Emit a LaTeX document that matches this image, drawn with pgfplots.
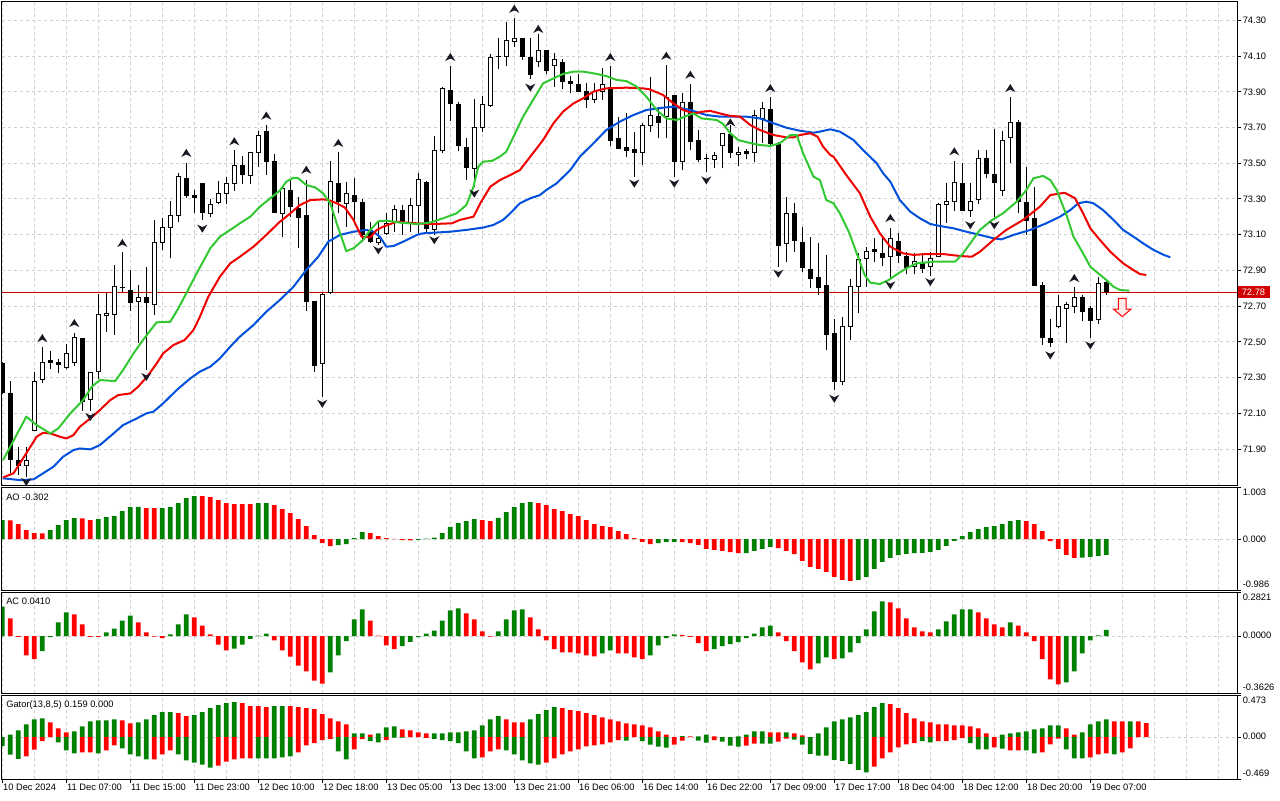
\documentclass[border=0pt]{standalone}
\usepackage{pgfplots}
\usepackage{pgfplotstable}
\pgfplotsset{compat=1.18}
\usepackage{fontspec}
\setmainfont{Liberation Sans}
\definecolor{mtgreen}{RGB}{0,128,0}
\definecolor{mtred}{RGB}{255,0,0}
\definecolor{lipsc}{RGB}{50,200,50}
\definecolor{teethc}{RGB}{240,0,0}
\definecolor{jawc}{RGB}{0,80,220}
\definecolor{gridc}{RGB}{208,208,208}
\definecolor{pricebox}{RGB}{210,0,0}
\definecolor{priceline}{RGB}{205,0,0}
\definecolor{fracc}{RGB}{25,25,35}
\newcommand\lbl{\fontsize{7}{8}\selectfont}

\pgfdeclareplotmark{fup}{%
  \pgfpathmoveto{\pgfqpoint{0pt}{3.3pt}}%
  \pgfpathlineto{\pgfqpoint{3.8pt}{-2.8pt}}%
  \pgfpathlineto{\pgfqpoint{0pt}{-0.9pt}}%
  \pgfpathlineto{\pgfqpoint{-3.8pt}{-2.8pt}}%
  \pgfpathclose\pgfusepathqfill}
\pgfdeclareplotmark{fdown}{%
  \pgfpathmoveto{\pgfqpoint{0pt}{-3.3pt}}%
  \pgfpathlineto{\pgfqpoint{3.8pt}{2.8pt}}%
  \pgfpathlineto{\pgfqpoint{0pt}{0.9pt}}%
  \pgfpathlineto{\pgfqpoint{-3.8pt}{2.8pt}}%
  \pgfpathclose\pgfusepathqfill}
\pgfdeclareplotmark{sellarrow}{%
  \pgfpathmoveto{\pgfqpoint{-2.9pt}{6.5pt}}%
  \pgfpathlineto{\pgfqpoint{2.9pt}{6.5pt}}%
  \pgfpathlineto{\pgfqpoint{2.9pt}{-1.7pt}}%
  \pgfpathlineto{\pgfqpoint{6.5pt}{-1.7pt}}%
  \pgfpathlineto{\pgfqpoint{0pt}{-7.3pt}}%
  \pgfpathlineto{\pgfqpoint{-6.5pt}{-1.7pt}}%
  \pgfpathlineto{\pgfqpoint{-2.9pt}{-1.7pt}}%
  \pgfpathclose\pgfusepathqfillstroke}

\pgfplotsset{
  mtaxis/.style={scale only axis, width=926.25pt, anchor=south west,
    xmin=-0.0375, xmax=154.34,
    axis line style={black, line width=0.75pt},
    xtick={0,4,...,152}, xticklabels={}, xmajorgrids, ymajorgrids,
    major grid style={gridc, dash pattern=on 2.25pt off 2.25pt, line width=0.75pt},
    minor grid style={gridc, dash pattern=on 2.25pt off 2.25pt, line width=0.75pt},
    xtick style={draw=none}, yticklabels={}, ytick pos=right,
    tick align=outside, major tick length=3pt,
    ytick style={black, line width=0.75pt}},
  nomk/.style={only marks, mark=none, mark size=0pt, mark options={draw=none, fill=none}},
  wick/.style={black, nomk, error bars/.cd, y dir=plus, y explicit,
    error mark=none, error bar style={line width=0.75pt, draw=black}},
  body/.style={nomk, error bars/.cd, y dir=plus, y explicit,
    error mark=none, error bar style={line width=#1}},
  hbar/.style={ybar, bar width=3.5pt, bar shift=0pt, draw=none, fill=#1}
}

% candles: i O H L C
\pgfplotstableread{
i O H L C
3 71.809 71.910 71.746 71.839
4 72.007 72.334 72.000 72.281
5 72.291 72.473 72.268 72.384
8 72.356 72.487 72.347 72.436
9 72.384 72.552 72.365 72.524
11 72.179 72.330 72.115 72.328
12 72.337 72.768 72.291 72.651
13 72.649 72.776 72.557 72.660
14 72.651 72.931 72.539 72.813
17 72.729 72.819 72.496 72.750
19 72.710 73.183 72.651 73.058
20 73.058 73.192 73.015 73.140
21 73.140 73.289 72.968 73.207
22 73.207 73.447 73.173 73.425
26 73.220 73.298 73.197 73.270
27 73.281 73.401 73.272 73.332
28 73.332 73.425 73.272 73.388
29 73.388 73.574 73.347 73.490
31 73.429 73.560 73.384 73.559
32 73.559 73.682 73.477 73.653
35 73.220 73.360 73.090 73.360
40 72.380 72.772 72.194 72.768
41 72.778 73.513 72.770 73.397
43 73.276 73.397 73.145 73.332
47 73.055 73.173 73.043 73.080
48 73.108 73.220 73.099 73.164
49 73.167 73.266 73.117 73.239
51 73.164 73.304 73.117 73.261
52 73.261 73.444 73.108 73.410
54 73.130 73.653 73.100 73.571
55 73.569 73.925 73.559 73.919
59 73.472 73.858 73.365 73.701
60 73.701 73.878 73.677 73.830
61 73.821 74.112 73.817 74.093
63 74.097 74.289 74.046 74.186
64 74.182 74.311 74.149 74.199
67 74.069 74.224 74.040 74.130
69 74.046 74.115 73.929 74.082
74 73.854 73.947 73.835 73.901
75 73.901 74.031 73.854 73.942
80 73.559 73.727 73.490 73.714
81 73.714 73.981 73.677 73.770
83 73.761 74.050 73.640 73.869
85 73.509 73.891 73.462 73.841
89 73.522 73.565 73.472 73.541
90 73.600 73.671 73.472 73.668
92 73.550 73.589 73.487 73.561
94 73.559 73.798 73.509 73.765
95 73.752 73.841 73.615 73.807
98 73.052 73.313 72.949 73.220
105 72.278 72.641 72.259 72.589
106 72.589 72.850 72.511 72.813
107 72.813 72.996 72.660 72.959
108 72.968 73.030 72.810 73.005
111 72.981 73.140 72.847 73.080
114 72.921 73.000 72.878 72.949
116 72.921 73.005 72.869 72.968
117 72.981 73.276 72.977 73.272
118 73.272 73.388 73.168 73.285
119 73.285 73.515 73.235 73.391
121 73.238 73.388 73.197 73.285
122 73.298 73.574 73.272 73.528
125 73.347 73.680 73.317 73.630
126 73.643 73.869 73.500 73.729
132 72.585 72.763 72.576 72.701
133 72.688 72.725 72.496 72.712
134 72.701 72.806 72.660 72.750
137 72.627 72.865 72.600 72.828
}\bull
\pgfplotstableread{
i O H L C
0 72.380 72.390 72.210 72.216
1 72.216 72.281 71.768 71.839
2 71.839 71.910 71.755 71.806
6 72.399 72.449 72.347 72.380
7 72.390 72.403 72.328 72.371
10 72.520 72.524 72.115 72.166
15 72.800 73.002 72.781 72.800
16 72.791 72.903 72.675 72.716
18 72.750 72.921 72.343 72.716
23 73.419 73.503 73.307 73.317
24 73.321 73.350 73.220 73.307
25 73.388 73.391 73.183 73.220
30 73.490 73.541 73.384 73.434
33 73.680 73.714 73.434 73.509
34 73.513 73.550 73.220 73.220
36 73.350 73.406 73.201 73.257
37 73.251 73.313 73.024 73.196
38 73.210 73.406 72.675 72.725
39 72.729 72.730 72.334 72.365
42 73.391 73.565 73.220 73.285
44 73.322 73.420 73.160 73.285
45 73.282 73.300 73.061 73.100
46 73.126 73.173 73.055 73.061
50 73.239 73.266 73.099 73.167
53 73.397 73.400 73.110 73.130
56 73.910 74.044 73.738 73.830
57 73.830 73.841 73.571 73.599
58 73.589 73.640 73.406 73.472
62 74.097 74.199 74.028 74.097
65 74.199 74.200 74.078 74.097
66 74.093 74.199 73.972 73.994
68 74.134 74.134 73.999 74.018
70 74.069 74.082 73.914 73.953
71 73.960 73.988 73.891 73.944
72 73.942 74.000 73.900 73.901
73 73.904 73.947 73.807 73.854
76 73.929 74.044 73.599 73.627
77 73.640 73.761 73.578 73.578
78 73.589 73.779 73.537 73.571
79 73.578 73.677 73.425 73.559
82 73.765 73.817 73.640 73.727
84 73.882 73.882 73.425 73.509
86 73.841 73.944 73.574 73.617
87 73.630 73.686 73.509 73.518
88 73.522 73.552 73.453 73.522
91 73.662 73.714 73.528 73.559
93 73.571 73.580 73.522 73.552
96 73.804 73.869 73.599 73.608
97 73.612 73.621 72.921 73.039
99 73.220 73.276 73.005 73.067
100 73.058 73.145 72.893 72.912
101 72.908 73.089 72.800 72.850
102 72.862 73.052 72.763 72.800
103 72.819 72.987 72.455 72.539
104 72.552 72.627 72.231 72.278
109 73.018 73.080 72.949 73.001
110 73.000 73.098 72.925 72.968
112 73.067 73.108 72.940 72.981
113 72.981 73.005 72.878 72.912
115 72.949 72.996 72.884 72.906
120 73.388 73.503 73.235 73.235
123 73.528 73.574 73.416 73.438
124 73.440 73.690 73.197 73.388
127 73.729 73.742 73.220 73.281
128 73.281 73.481 73.099 73.179
129 73.192 73.369 72.813 72.815
130 72.819 72.837 72.483 72.520
131 72.520 72.627 72.474 72.496
135 72.753 72.763 72.619 72.669
136 72.688 72.701 72.520 72.619
138 72.837 72.845 72.765 72.780
}\bear

\begin{document}
\begin{tikzpicture}[x=0.75pt,y=0.75pt]
\path[use as bounding box] (0,0) rectangle (1280,800);
\fill[white] (0,0) rectangle (1280,800);

% ---------------- main price panel ----------------
\begin{axis}[mtaxis, at={(1.5pt,235.875pt)}, height=362.625pt,
  ymin=71.6968, ymax=74.4024,
  ytick={71.9,72.1,72.3,72.5,72.7,72.9,73.1,73.3,73.5,73.7,73.9,74.1,74.3}]
\addplot[color=priceline, mark=none, line width=0.8pt] coordinates {(-1,72.777) (160,72.777)};
% wicks
\addplot[wick] table[x=i, y=L, y error plus expr={\thisrow{H}-\thisrow{L}}] {\bull};
\addplot[wick] table[x=i, y=L, y error plus expr={\thisrow{H}-\thisrow{L}}] {\bear};
% bodies
\addplot[black, body={3.75pt, draw=black}] table[x=i, y=C, y error plus expr={max(\thisrow{O}-\thisrow{C},0.0056)}] {\bear};
\addplot[black, body={3.75pt, draw=black}] table[x=i, y expr={\thisrow{O}-0.0028}, y error plus expr={\thisrow{C}-\thisrow{O}+0.0056}] {\bull};
\addplot[white, body={2.25pt, draw=white}] table[x=i, y expr={\thisrow{O}+0.0028}, y error plus expr={max(\thisrow{C}-\thisrow{O}-0.0056,0)}] {\bull};
% alligator: jaw (blue)
\addplot[jawc, mark=none, line width=1.5pt, line join=round] coordinates {
(0.1,71.737)(2.2,71.727)(3.9,71.731)(5.1,71.765)(6.4,71.802)(7.6,71.858)(8.9,71.895)(9.7,71.904)(11.0,71.899)(12.2,71.923)(13.9,71.988)(15.1,72.035)(16.8,72.072)(18.0,72.100)(18.9,72.110)(20.1,72.156)(21.8,72.231)(23.5,72.296)(24.7,72.334)(26.0,72.362)(27.2,72.408)(28.5,72.474)(29.7,72.530)(31.4,72.595)(33.0,72.669)(34.7,72.735)(36.4,72.809)(38.0,72.903)(39.5,72.977)(40.75,73.061)(42.2,73.099)(43.9,73.117)(45.5,73.127)(46.4,73.117)(47.2,73.089)(48.0,73.033)(48.9,73.037)(50.1,73.061)(51.8,73.099)(52.6,73.108)(56.0,73.117)(58.0,73.127)(60.1,73.140)(61.4,73.155)(62.6,73.183)(63.5,73.220)(64.7,73.276)(66.0,73.304)(67.2,73.322)(68.0,73.350)(69.3,73.388)(71.0,73.462)(72.2,73.537)(73.9,73.612)(75.5,73.686)(77.2,73.733)(78.9,73.770)(80.5,73.798)(82.6,73.811)(83.9,73.817)(86.0,73.798)(88.0,73.770)(89.7,73.761)(93.0,73.761)(94.7,73.751)(96.4,73.724)(98.0,73.699)(99.7,73.682)(101.4,73.671)(102.2,73.677)(103.5,73.690)(104.7,73.677)(106.4,73.630)(107.6,73.574)(109.3,73.500)(110.1,73.444)(111.0,73.397)(112.2,73.294)(113.5,73.229)(114.7,73.192)(116.0,73.160)(117.2,73.149)(118.9,73.136)(120.5,73.117)(122.2,73.099)(123.9,73.080)(124.9,73.074)(126.4,73.099)(128.5,73.127)(130.5,73.164)(132.2,73.201)(133.5,73.238)(134.5,73.276)(135.5,73.285)(136.4,73.276)(137.6,73.238)(138.9,73.183)(140.1,73.127)(141.4,73.089)(142.6,73.052)(143.9,73.015)(145.2,72.987)(146.0,72.974)};
% teeth (red)
\addplot[teethc, mark=none, line width=1.5pt, line join=round] coordinates {
(0.1,71.742)(1.4,71.765)(3.0,71.877)(4.3,71.970)(5.1,71.992)(6.0,71.988)(7.2,71.970)(8.0,71.960)(8.9,71.979)(9.7,72.026)(11.0,72.072)(12.2,72.119)(13.5,72.175)(14.5,72.203)(16.0,72.212)(17.0,72.250)(18.25,72.315)(19.3,72.380)(20.1,72.436)(21.4,72.483)(22.8,72.511)(23.9,72.567)(24.7,72.641)(25.75,72.753)(27.2,72.865)(28.5,72.940)(29.7,72.977)(31.4,73.033)(33.0,73.099)(34.7,73.173)(35.75,73.210)(37.2,73.266)(38.5,73.294)(40.1,73.298)(40.75,73.294)(41.8,73.276)(42.8,73.253)(43.9,73.183)(44.9,73.089)(46.0,73.085)(46.8,73.127)(47.6,73.145)(49.3,73.173)(50.5,73.168)(51.8,73.164)(53.9,73.160)(56.2,73.164)(57.2,73.183)(58.9,73.201)(59.75,73.276)(61.0,73.369)(62.2,73.406)(63.5,73.434)(64.7,73.462)(66.0,73.537)(67.6,73.630)(68.9,73.724)(70.1,73.789)(71.4,73.835)(72.6,73.863)(73.9,73.901)(75.5,73.919)(78.0,73.923)(80.1,73.919)(80.9,73.914)(82.6,73.882)(83.9,73.835)(85.1,73.798)(86.4,73.779)(87.6,73.789)(88.5,73.793)(89.7,73.779)(91.0,73.765)(92.2,73.761)(93.5,73.714)(94.7,73.686)(96.4,73.658)(98.0,73.645)(98.9,73.645)(99.7,73.658)(101.0,73.668)(101.9,73.649)(102.6,73.593)(103.5,73.546)(103.9,73.537)(105.5,73.434)(107.2,73.332)(108.5,73.201)(109.7,73.108)(111.0,73.033)(112.6,72.996)(113.9,72.987)(115.5,72.992)(117.6,72.992)(119.7,72.981)(121.2,72.977)(122.2,73.005)(123.9,73.071)(125.5,73.127)(127.6,73.183)(129.7,73.257)(131.0,73.322)(132.8,73.335)(134.1,73.304)(135.1,73.220)(136.0,73.136)(137.2,73.071)(138.5,73.005)(140.1,72.940)(141.4,72.902)(142.2,72.880)(143.0,72.875)};
% lips (green)
\addplot[lipsc, mark=none, line width=1.5pt, line join=round] coordinates {
(0.1,71.839)(3.0,72.082)(4.3,72.035)(6.0,71.988)(7.0,72.016)(8.5,72.100)(10.1,72.175)(11.2,72.250)(12.2,72.287)(14.1,72.281)(15.1,72.343)(16.4,72.436)(17.6,72.511)(18.7,72.576)(19.3,72.610)(21.0,72.613)(22.0,72.688)(23.0,72.772)(24.3,72.884)(26.0,73.024)(27.2,73.089)(28.5,73.127)(29.7,73.164)(31.0,73.201)(32.2,73.257)(33.5,73.304)(34.7,73.347)(35.5,73.397)(36.4,73.419)(37.0,73.416)(38.0,73.378)(39.1,73.365)(40.1,73.332)(41.0,73.276)(41.8,73.164)(43.0,73.008)(43.9,73.024)(45.1,73.071)(46.0,73.127)(47.0,73.175)(48.0,73.179)(49.7,73.168)(51.8,73.160)(53.5,73.168)(55.1,73.192)(56.8,73.220)(58.0,73.266)(58.9,73.369)(59.5,73.481)(60.1,73.509)(61.2,73.513)(62.2,73.537)(63.0,73.565)(63.9,73.649)(65.1,73.761)(66.6,73.873)(67.6,73.947)(68.9,73.975)(70.1,74.000)(71.4,74.013)(72.6,74.013)(74.3,74.000)(75.5,73.988)(76.8,73.966)(78.0,73.960)(79.3,73.929)(80.5,73.873)(81.8,73.798)(83.0,73.751)(84.3,73.742)(85.8,73.770)(86.4,73.779)(87.4,73.751)(89.3,73.742)(90.1,73.720)(91.0,73.668)(92.0,73.630)(93.3,73.615)(94.7,73.602)(96.0,73.597)(97.2,73.612)(98.5,73.658)(99.3,73.658)(100.1,73.556)(101.4,73.425)(102.2,73.406)(103.0,73.294)(103.9,73.276)(104.7,73.220)(105.9,73.108)(106.8,72.996)(107.8,72.875)(108.5,72.832)(109.7,72.824)(110.8,72.847)(112.0,72.884)(113.0,72.912)(114.3,72.940)(116.4,72.949)(119.1,72.949)(120.1,72.996)(121.0,73.052)(122.2,73.127)(123.7,73.182)(125.1,73.220)(126.8,73.285)(128.0,73.350)(128.9,73.416)(130.1,73.429)(131.0,73.406)(131.8,73.350)(133.1,73.201)(133.9,73.089)(135.1,72.996)(136.0,72.921)(137.0,72.884)(138.0,72.847)(138.9,72.809)(139.7,72.791)(140.9,72.787)};
% fractals
\addplot[fracc, only marks, mark=fup] coordinates {
(5,72.520)(9,72.604)(15,73.052)(23,73.556)(29,73.621)(33,73.765)(38,73.462)(42,73.612)(56,74.093)(64,74.363)(67,74.250)(76,74.093)(83,74.100)(86,73.994)(91,73.727)(96,73.919)(111,73.192)(119,73.565)(126,73.919)(134,72.856)};
\addplot[fracc, only marks, mark=fdown] coordinates {
(3,71.718)(11,72.082)(18,72.306)(25,73.136)(40,72.156)(47,73.015)(54,73.071)(59,73.332)(66,73.925)(79,73.388)(84,73.388)(88,73.406)(97,72.884)(104,72.184)(111,72.819)(116,72.837)(121,73.155)(124,73.155)(131,72.427)(136,72.483)};
\addplot[only marks, mark=sellarrow, mark options={draw=red, fill=red!8, line width=0.75pt}] coordinates {(140,72.696)};
\end{axis}

% ---------------- AO panel ----------------
\begin{axis}[mtaxis, at={(1.5pt,157.5pt)}, height=76.875pt,
  ymin=-0.986, ymax=1.003, ytick={-0.986,0,1.003}]
\addplot[hbar=mtgreen] coordinates {(0,.37)(6,.175)(7,.272)(8,.37)(9,.409)(12,.389)(13,.428)(14,.447)(15,.545)(16,.623)(17,.625)(20,.605)(21,.623)(22,.70)(23,.798)(24,.837)(32,.70)(33,.701)(42,-.117)(43,-.097)(44,.019)(45,.136)(52,-.015)(53,.01)(54,.03)(55,.117)(56,.24)(57,.311)(58,.35)(59,.389)(62,.415)(63,.525)(64,.623)(65,.70)(66,.72)(82,-.078)(83,-.052)(84,-.05)(93,-.27)(94,-.227)(95,-.188)(96,-.149)(107,-.79)(108,-.733)(109,-.577)(110,-.441)(111,-.363)(112,-.311)(113,-.285)(114,-.272)(115,-.266)(116,-.246)(117,-.208)(118,-.13)(119,-.032)(120,.058)(121,.136)(122,.195)(123,.233)(124,.253)(125,.292)(126,.35)(127,.37)(135,-.36)(136,-.344)(137,-.324)(138,-.302)};
\addplot[hbar=mtred] coordinates {(1,.365)(2,.29)(3,.175)(4,.117)(5,.115)(10,.405)(11,.37)(18,.603)(19,.601)(25,.836)(26,.817)(27,.759)(28,.70)(29,.681)(30,.68)(31,.679)(34,.661)(35,.584)(36,.506)(37,.389)(38,.253)(39,.078)(40,-.078)(41,-.136)(46,.117)(47,.058)(48,.019)(49,.004)(50,-.02)(51,-.022)(60,.37)(61,.35)(67,.70)(68,.661)(69,.584)(70,.545)(71,.486)(72,.447)(73,.37)(74,.292)(75,.253)(76,.233)(77,.156)(78,.097)(79,.02)(80,-.052)(81,-.097)(85,-.058)(86,-.078)(87,-.11)(88,-.188)(89,-.208)(90,-.227)(91,-.253)(92,-.272)(97,-.175)(98,-.227)(99,-.292)(100,-.42)(101,-.538)(102,-.577)(103,-.636)(104,-.733)(105,-.791)(106,-.811)(128,.35)(129,.292)(130,.156)(131,-.039)(132,-.188)(133,-.305)(134,-.363)};
\end{axis}

% ---------------- AC panel ----------------
\begin{axis}[mtaxis, at={(1.5pt,80.25pt)}, height=75.75pt,
  ymin=-0.3626, ymax=0.2821, ytick={-0.3626,0,0.2821}]
\addplot[hbar=mtgreen] coordinates {(0,.188)(5,-.096)(6,-.006)(7,.088)(8,.152)(13,.024)(14,.049)(15,.10)(16,.132)(21,.011)(22,.075)(23,.139)(29,-.079)(30,-.053)(31,-.017)(32,.004)(33,.017)(41,-.231)(42,-.122)(43,-.032)(44,.107)(45,.171)(50,-.064)(51,-.036)(52,-.006)(53,.017)(54,.036)(55,.10)(56,.165)(57,.177)(62,.03)(63,.107)(64,.165)(65,.171)(75,-.109)(76,-.09)(81,-.122)(82,-.058)(83,-.013)(84,.011)(89,-.083)(90,-.064)(91,-.051)(92,-.038)(93,-.013)(94,.017)(95,.056)(96,.068)(102,-.173)(103,-.135)(105,-.141)(106,-.103)(107,-.045)(108,.043)(109,.158)(110,.222)(117,.043)(118,.094)(119,.139)(120,.171)(121,.172)(126,.088)(133,-.295)(134,-.224)(135,-.109)(136,-.026)(137,.006)(138,.041)};
\addplot[hbar=mtred] coordinates {(1,.113)(2,-.004)(3,-.122)(4,-.147)(9,.139)(10,.075)(11,-.004)(12,-.005)(17,.088)(18,.024)(19,-.002)(20,-.013)(24,.12)(25,.068)(26,.011)(27,-.053)(28,-.09)(34,-.026)(35,-.09)(36,-.13)(37,-.188)(38,-.224)(39,-.284)(40,-.303)(46,.10)(47,.004)(48,-.058)(49,-.083)(58,.145)(59,.107)(60,.03)(61,-.002)(66,.12)(67,.043)(68,-.026)(69,-.083)(70,-.103)(71,-.104)(72,-.109)(73,-.122)(74,-.128)(77,-.109)(78,-.11)(79,-.135)(80,-.147)(85,.009)(86,-.004)(87,-.045)(88,-.096)(97,.024)(98,-.032)(99,-.096)(100,-.167)(101,-.212)(104,-.147)(111,.216)(112,.177)(113,.113)(114,.056)(115,.03)(116,.024)(122,.152)(123,.113)(124,.075)(125,.056)(127,.068)(128,.024)(129,-.032)(130,-.147)(131,-.276)(132,-.308)};
\end{axis}

% ---------------- Gator panel ----------------
\begin{axis}[mtaxis, at={(1.5pt,15.75pt)}, height=63pt,
  ymin=-0.469, ymax=0.473, ytick={-0.469,0,0.473},
  xtick={0,8,...,136}, minor xtick={4,12,...,148,144,152}, xminorgrids,
  xtick pos=bottom, xtick style={draw=black, line width=0.75pt}, minor tick length=0pt]
\addplot[hbar=mtgreen] coordinates {(1,.03)(2,.076)(3,.144)(4,.20)(5,.212)(9,.064)(10,.121)(11,.178)(12,.189)(13,.189)(14,.20)(17,.167)(18,.20)(19,.246)(20,.28)(21,.28)(24,.246)(25,.28)(26,.326)(27,.36)(28,.383)(29,.394)(34,.348)(35,.348)(44,.042)(45,.042)(47,.042)(48,.11)(49,.121)(54,.042)(55,.042)(56,.053)(57,.053)(58,.064)(59,.076)(60,.133)(61,.20)(62,.235)(66,.20)(67,.258)(68,.303)(69,.337)(85,.011)(87,.008)(88,.03)(92,.008)(93,.03)(94,.064)(95,.064)(98,.053)(102,.042)(103,.11)(104,.178)(105,.20)(106,.223)(107,.246)(108,.28)(109,.337)(110,.383)(125,.03)(126,.042)(127,.053)(128,.064)(129,.087)(130,.098)(131,.133)(132,.133)(135,.053)(136,.144)(137,.178)(138,.20)(141,.178)};
\addplot[hbar=mtred] coordinates {(6,.167)(7,.098)(8,.053)(15,.189)(16,.155)(22,.269)(23,.235)(30,.383)(31,.348)(32,.348)(33,.337)(36,.348)(37,.337)(38,.326)(39,.314)(40,.258)(41,.212)(42,.178)(43,.144)(46,.03)(50,.087)(51,.076)(52,.053)(53,.042)(63,.20)(64,.167)(65,.167)(70,.326)(71,.303)(72,.292)(73,.269)(74,.246)(75,.223)(76,.20)(77,.178)(78,.155)(79,.144)(80,.133)(81,.11)(82,.064)(83,.03)(86,.008)(89,.008)(96,.053)(97,.053)(99,.042)(100,.019)(111,.371)(112,.326)(113,.269)(114,.212)(115,.178)(116,.167)(117,.144)(118,.144)(119,.133)(120,.133)(121,.121)(122,.098)(123,.042)(133,.098)(134,.03)(139,.178)(140,.178)(142,.176)(143,.159)};
\addplot[hbar=mtgreen] coordinates {(0,-.10)(1,-.197)(2,-.242)(7,-.057)(8,-.148)(9,-.182)(12,-.182)(15,-.125)(16,-.193)(17,-.216)(18,-.25)(22,-.193)(23,-.261)(24,-.284)(25,-.307)(26,-.341)(32,-.239)(33,-.239)(34,-.239)(35,-.227)(36,-.216)(42,-.159)(43,-.25)(46,-.045)(47,-.057)(49,-.005)(50,-.005)(54,-.019)(55,-.034)(56,-.045)(57,-.068)(58,-.159)(59,-.239)(63,-.148)(64,-.193)(65,-.261)(66,-.295)(67,-.307)(78,-.038)(80,-.045)(81,-.083)(82,-.106)(83,-.117)(87,-.038)(88,-.06)(90,-.049)(91,-.095)(92,-.106)(95,-.072)(96,-.072)(99,-.027)(100,-.083)(101,-.186)(102,-.208)(103,-.208)(104,-.254)(105,-.265)(106,-.299)(107,-.367)(108,-.394)(115,-.045)(116,-.057)(121,-.068)(122,-.136)(123,-.136)(125,-.129)(128,-.148)(129,-.182)(133,-.136)(134,-.239)(135,-.239)(139,-.193)};
\addplot[hbar=mtred] coordinates {(3,-.216)(4,-.14)(5,-.045)(10,-.17)(11,-.17)(13,-.148)(14,-.091)(19,-.25)(20,-.193)(21,-.148)(27,-.318)(28,-.273)(29,-.25)(30,-.239)(31,-.239)(37,-.17)(38,-.091)(39,-.068)(40,-.034)(41,-.023)(44,-.136)(45,-.023)(48,-.034)(53,-.008)(60,-.227)(61,-.159)(62,-.136)(68,-.284)(69,-.239)(70,-.193)(71,-.159)(72,-.136)(73,-.102)(74,-.091)(75,-.08)(76,-.057)(77,-.034)(84,-.083)(85,-.038)(89,-.034)(93,-.095)(94,-.072)(97,-.049)(98,-.015)(109,-.33)(110,-.239)(111,-.17)(112,-.114)(113,-.08)(114,-.068)(117,-.045)(118,-.045)(119,-.034)(120,-.011)(124,-.114)(126,-.148)(127,-.148)(130,-.17)(131,-.08)(132,-.015)(136,-.227)(137,-.193)(138,-.182)(140,-.17)(141,-.125)};
\end{axis}

% ---------------- labels ----------------
\begin{scope}[every node/.style={inner sep=0pt, font=\lbl}]
\foreach \v/\yy in {74.30/779.7,74.10/743.96,73.90/708.2,73.70/672.5,73.50/636.7,73.30/601.0,73.10/565.3,72.90/529.5,72.70/493.8,72.50/458.0,72.30/422.3,72.10/386.6,71.90/350.8}
  \node[anchor=west] at (1242.5,\yy) {\v};
\fill[pricebox] (1238,502.3) rectangle (1269.5,513.5);
\node[anchor=west, text=white] at (1241.5,508) {72.78};
\node[anchor=west] at (1242.5,307.7) {1.003};
\node[anchor=west] at (1242.5,261) {0.000};
\node[anchor=west] at (1242.5,215.3) {-0.986};
\node[anchor=west] at (1242.5,202.3) {0.2821};
\node[anchor=west] at (1242.5,164.3) {0.0000};
\node[anchor=west] at (1242.5,112.7) {-0.3626};
\node[anchor=west] at (1242.5,99.3) {0.473};
\node[anchor=west] at (1242.5,63.3) {0.000};
\node[anchor=west] at (1242.5,26.7) {-0.469};
\node[anchor=base west] at (6,299.7) {AO -0.302};
\node[anchor=base west] at (6,195.5) {AC 0.0410};
\node[anchor=base west] at (6,92.5) {Gator(13,8,5) 0.159 0.000};
\foreach \k/\t in {0/10 Dec 2024,1/11 Dec 07:00,2/11 Dec 15:00,3/11 Dec 23:00,4/12 Dec 10:00,5/12 Dec 18:00,6/13 Dec 05:00,7/13 Dec 13:00,8/13 Dec 21:00,9/16 Dec 06:00,10/16 Dec 14:00,11/16 Dec 22:00,12/17 Dec 09:00,13/17 Dec 17:00,14/18 Dec 04:00,15/18 Dec 12:00,16/18 Dec 20:00,17/19 Dec 07:00}
  \node[anchor=base west] at ({2.8+64*\k},9.3) {\t};
\end{scope}
\end{tikzpicture}
\end{document}
